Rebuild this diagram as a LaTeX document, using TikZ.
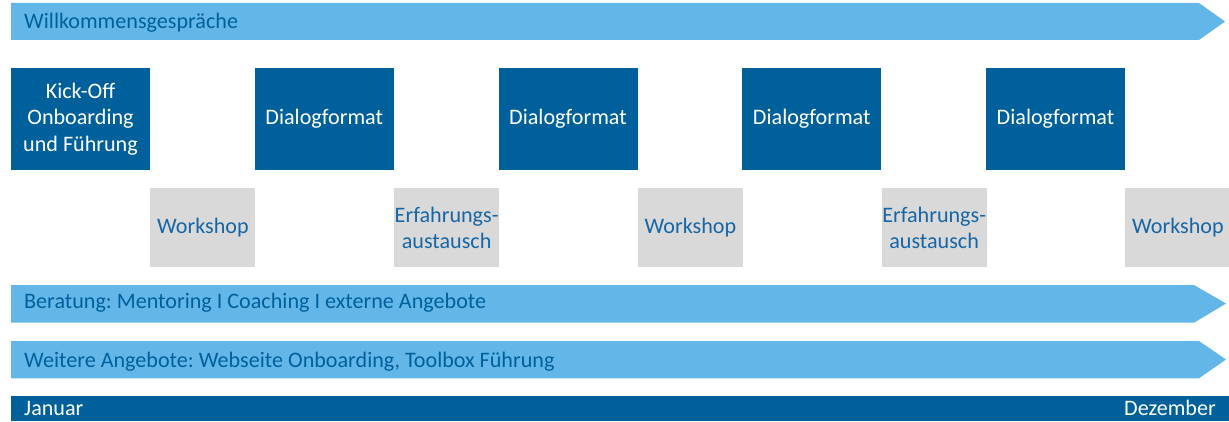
\documentclass[tikz,border=0pt]{standalone}
\usepackage{fontspec}
\setmainfont{Carlito}
\usepackage{tikz}
\usetikzlibrary{positioning}
\frenchspacing
\definecolor{dunkelblau}{RGB}{0,96,156}
\definecolor{hellblau}{RGB}{99,183,232}
\definecolor{hellgrau}{RGB}{217,217,217}
\definecolor{textblau}{RGB}{22,102,166}
\tikzset{
    x=1bp, y=1bp,
    node distance=243.75bp, % Abstand zwischen zwei Terminen
    termin/.style={ % dunkle Kaesten oben
        rectangle,
        fill=dunkelblau,
        text=white,
        minimum width=139bp, minimum height=102bp,
        align=center, inner sep=0pt
    },
    treffen/.style={ % graue Kaesten unten
        rectangle,
        fill=hellgrau,
        text=textblau,
        minimum width=105bp, minimum height=79bp,
        align=center, inner sep=0pt
    },
    band/.style={fill=hellblau},
    bandtext/.style={anchor=base west, inner sep=0pt, text=dunkelblau}
}

\begin{document}
\begin{tikzpicture}[font=\fontsize{22.2}{26.5}\selectfont]
    \useasboundingbox (0,0) rectangle (1229,421);
    % obere reihe
    \node[termin]                        (kickoff)    at (80.5,302) {Kick-Off\\Onboarding\\und Führung};
    \node[termin, right of=kickoff]      (dialog1)    {Dialogformat};
    \node[termin, right of=dialog1]      (dialog2)    {Dialogformat};
    \node[termin, right of=dialog2]      (dialog3)    {Dialogformat};
    \node[termin, right of=dialog3]      (dialog4)    {Dialogformat};
    % untere reihe
    \node[treffen, below right=18bp and 0bp of kickoff]
                                         (workshop1)  {Workshop};
    \node[treffen, right of=workshop1]   (austausch1) {Erfahrungs-\\austausch};
    \node[treffen, right of=austausch1]  (workshop2)  {Workshop};
    \node[treffen, right of=workshop2]   (austausch2) {Erfahrungs-\\austausch};
    \node[treffen, right of=austausch2]  (workshop3)  {Workshop};
    % baender
    \fill[band] (11,381) -- (1199,381) -- (1225,399.5) -- (1199,418) -- (11,418) -- cycle;
    \node[bandtext] (willkommen) at (24,392.7) {Willkommensgespräche};
    \fill[band] (11,98.3) -- (1194,98.3) -- (1226,117.5) -- (1194,136) -- (11,136) -- cycle;
    \node[bandtext] (beratung)   at (24,112.7) {Beratung: Mentoring I Coaching I externe Angebote};
    \fill[band] (11,42.7) -- (1199,42.7) -- (1226,61.5) -- (1199,80) -- (11,80) -- cycle;
    \node[bandtext] (weitere)    at (24,53.3)  {Weitere Angebote: Webseite Onboarding, Toolbox Führung};
    % zeitachse
    \fill[dunkelblau] (11,0) rectangle (1229,25);
    \node[bandtext, text=white]             (januar)   at (24,6)   {Januar};
    \node[bandtext, text=white, anchor=base east] (dezember) at (1216,6) {Dezember};
\end{tikzpicture}
\end{document}
